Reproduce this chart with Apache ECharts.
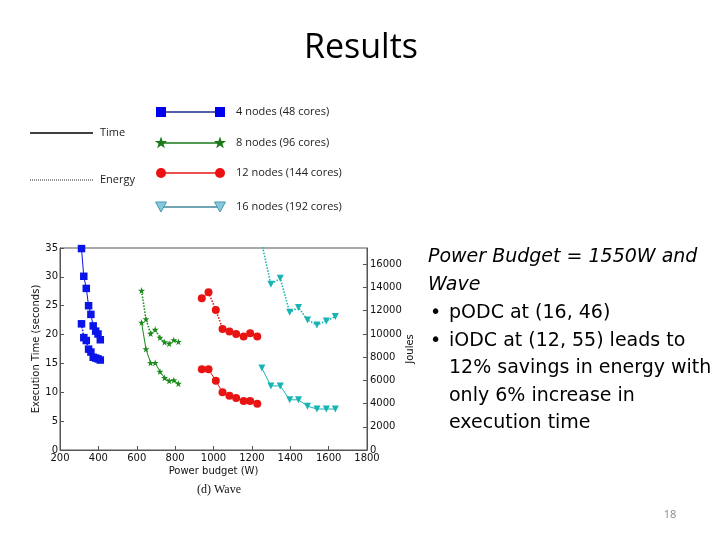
<!DOCTYPE html>
<html>
<head>
<meta charset="utf-8">
<script src="https://cdn.jsdelivr.net/npm/echarts@6/dist/echarts.min.js"></script>
<style>
html,body{margin:0;padding:0;background:#fff;}
#chart{width:720px;height:540px;}
</style>
</head>
<body>
<div id="chart"></div>
<script>
// ---- data ----
const xTicks = [200, 400, 600, 800, 1000, 1200, 1400, 1600, 1800];
const timeTicks = [0, 5, 10, 15, 20, 25, 30, 35];
const energyTicks = [0, 2000, 4000, 6000, 8000, 10000, 12000, 14000, 16000];

const power4 = [312, 324, 337, 349, 361, 373, 386, 398, 410];
const time4 = [34.9, 30.1, 28.0, 25.0, 23.5, 21.5, 20.6, 20.1, 19.1];
const energy4 = [10870, 9680, 9430, 8690, 8440, 7990, 7920, 7850, 7750];

const power8 = [625, 648, 672, 696, 721, 745, 769, 793, 817];
const time8 = [22.1, 17.5, 15.1, 15.1, 13.6, 12.5, 12.0, 12.1, 11.5];
const energy8 = [13730, 11270, 10030, 10380, 9680, 9290, 9160, 9480, 9330];

const power12 = [939, 974, 1012, 1047, 1083, 1118, 1157, 1191, 1228];
const time12 = [14.0, 14.0, 12.0, 10.0, 9.4, 9.0, 8.5, 8.5, 8.0];
const energy12 = [13070, 13590, 12070, 10430, 10200, 10000, 9770, 10050, 9770];

const power16 = [1252, 1299, 1348, 1397, 1443, 1490, 1539, 1588, 1635];
const time16 = [14.2, 11.1, 11.1, 8.7, 8.7, 7.6, 7.1, 7.1, 7.1];
const energy16 = [17750, 14280, 14790, 11860, 12270, 11200, 10770, 11120, 11490];

const seriesNames = ['4 nodes (48 cores)', '8 nodes (96 cores)', '12 nodes (144 cores)', '16 nodes (192 cores)'];
const bulletLines = ['pODC at (16, 46)', 'iODC at (12, 55) leads to', '12% savings in energy with', 'only 6% increase in', 'execution time'];

// ---- helpers ----
const zip = (xs, ys) => xs.map((x, i) => [x, ys[i]]);
const AX = '#555';
const FONT = '"DejaVu Sans", sans-serif';

function mk(name, xs, ys, yIdx, color, symbol, size, dotted, rotate) {
  return {
    name: name, type: 'line', xAxisIndex: 0, yAxisIndex: yIdx,
    data: zip(xs, ys), symbol: symbol, symbolSize: size, symbolRotate: rotate || 0,
    showSymbol: true, clip: true, animation: false,
    lineStyle: {color: color, width: dotted ? 1.6 : 1, type: dotted ? [1.5, 1.5] : 'solid'},
    itemStyle: {color: color, borderWidth: 0},
    emphasis: {disabled: true}
  };
}
const STAR = 'path://M50,0 L61,35 L98,35 L68,57 L79,91 L50,70 L21,91 L32,57 L2,35 L39,35 Z';

const C4 = '#0a14e8', C8 = '#1a8a1a', C12 = '#e81414', C16 = '#18b4b4';

const series = [
  mk('t4', power4, time4, 0, C4, 'rect', 7.5, false),
  mk('e4', power4, energy4, 1, C4, 'rect', 7.5, true),
  mk('t8', power8, time8, 0, C8, STAR, 7, false),
  mk('e8', power8, energy8, 1, C8, STAR, 7, true),
  mk('t12', power12, time12, 0, C12, 'circle', 8, false),
  mk('e12', power12, energy12, 1, C12, 'circle', 8, true),
  mk('t16', power16, time16, 0, C16, 'triangle', 7, false, 180),
  mk('e16', power16, energy16, 1, C16, 'triangle', 7, true, 180)
];

// ---- graphic elements: legend pictures and slide text ----
const g = [];
g.push({type: 'line', shape: {x1: 30, y1: 133, x2: 93, y2: 133}, style: {stroke: '#000', lineWidth: 1.3}});
g.push({type: 'text', style: {text: 'Time', x: 100, y: 133, font: '11px "Open Sans", sans-serif', fill: '#222', textVerticalAlign: 'middle'}});
g.push({type: 'line', shape: {x1: 30, y1: 180, x2: 93, y2: 180}, style: {stroke: '#222', lineWidth: 1, lineDash: [1, 1]}});
g.push({type: 'text', style: {text: 'Energy', x: 100, y: 180, font: '11px "Open Sans", sans-serif', fill: '#222', textVerticalAlign: 'middle'}});

const legY = [112, 143, 173, 207];
const legLine = ['#1a2a8a', '#1a7a1a', '#e81414', '#3f8898'];
for (let i = 0; i < 4; i++) {
  g.push({type: 'line', shape: {x1: 161, y1: legY[i], x2: 220, y2: legY[i]}, style: {stroke: legLine[i], lineWidth: 1.5}});
  g.push({type: 'text', style: {text: seriesNames[i], x: 236, y: legY[i], font: '11px "Open Sans", sans-serif', fill: '#222', textVerticalAlign: 'middle'}});
}
[161, 220].forEach(function (cx) {
  g.push({type: 'rect', shape: {x: cx - 5, y: legY[0] - 5, width: 10, height: 10}, style: {fill: '#0000ee'}});
  g.push({type: 'polygon', shape: {points: (function () {
      const pts = []; for (let k = 0; k < 10; k++) { const r = k % 2 ? 2.6 : 6.5; const a = -Math.PI / 2 + k * Math.PI / 5; pts.push([cx + r * Math.cos(a), legY[1] + r * Math.sin(a)]); } return pts; })()},
    style: {fill: '#1a7a1a'}});
  g.push({type: 'circle', shape: {cx: cx, cy: legY[2], r: 5}, style: {fill: '#ee1010'}});
  g.push({type: 'polygon', shape: {points: [[cx - 5.5, legY[3] - 5], [cx + 5.5, legY[3] - 5], [cx, legY[3] + 5]]}, style: {fill: '#86c8dc', stroke: '#4a96b0', lineWidth: 1}});
});

g.push({type: 'text', style: {text: 'Results', x: 361, y: 48, font: '34px "Open Sans", sans-serif', fill: '#000', textAlign: 'center', textVerticalAlign: 'middle'}});

const TF = '19px "DejaVu Sans", sans-serif';
const TFI = 'italic 19px "DejaVu Sans", sans-serif';
g.push({type: 'text', style: {text: 'Power Budget = 1550W and', x: 428, y: 267, font: TFI, fill: '#000', textVerticalAlign: 'bottom'}});
g.push({type: 'text', style: {text: 'Wave', x: 428, y: 295, font: TFI, fill: '#000', textVerticalAlign: 'bottom'}});
const base = [323, 351, 378, 406, 433];
const bullets = [true, true, false, false, false];
for (let i = 0; i < bulletLines.length; i++) {
  if (bullets[i]) g.push({type: 'text', style: {text: '•', x: 430, y: base[i], font: TF, fill: '#000', textVerticalAlign: 'bottom'}});
  g.push({type: 'text', style: {text: bulletLines[i], x: 449, y: base[i], font: TF, fill: '#000', textVerticalAlign: 'bottom'}});
}
g.push({type: 'text', style: {text: '(d) Wave', x: 219, y: 490, font: '12px "Liberation Serif", serif', fill: '#111', textAlign: 'center', textVerticalAlign: 'middle'}});
g.push({type: 'text', style: {text: '18', x: 670, y: 515, font: '11px "Open Sans", sans-serif', fill: '#8a8a8a', textAlign: 'center', textVerticalAlign: 'middle'}});

const plain = function (v) { return String(v); };

const chart = echarts.init(document.getElementById('chart'), null, {renderer: 'canvas'});
chart.setOption({
  backgroundColor: '#fff',
  animation: false,
  grid: {left: 60, right: 353, top: 248, bottom: 90, show: true, borderColor: AX, borderWidth: 1, backgroundColor: 'transparent'},
  xAxis: {
    type: 'value', min: xTicks[0], max: xTicks[xTicks.length - 1], interval: 200,
    name: 'Power budget (W)', nameLocation: 'middle', nameGap: 16,
    nameTextStyle: {fontFamily: FONT, fontSize: 10, color: '#111'},
    axisLine: {show: true, lineStyle: {color: AX}},
    axisTick: {show: true, inside: true, length: 4, lineStyle: {color: AX}},
    axisLabel: {fontFamily: FONT, fontSize: 10, color: '#111', margin: 3, formatter: plain},
    splitLine: {show: false}
  },
  yAxis: [{
    type: 'value', min: timeTicks[0], max: timeTicks[timeTicks.length - 1], interval: 5, position: 'left',
    name: 'Execution Time (seconds)', nameLocation: 'middle', nameGap: 18, nameRotate: 90,
    nameTextStyle: {fontFamily: FONT, fontSize: 10, color: '#111'},
    axisLine: {show: true, lineStyle: {color: AX}},
    axisTick: {show: true, inside: true, length: 4, lineStyle: {color: AX}},
    axisLabel: {fontFamily: FONT, fontSize: 10, color: '#111', margin: 2, formatter: plain},
    splitLine: {show: false}
  }, {
    type: 'value', min: energyTicks[0], max: 17400, interval: 2000, position: 'right',
    name: 'Joules', nameLocation: 'middle', nameGap: 36, nameRotate: 90,
    nameTextStyle: {fontFamily: FONT, fontSize: 10, color: '#111'},
    axisLine: {show: true, lineStyle: {color: AX}},
    axisTick: {show: true, inside: true, length: 4, lineStyle: {color: AX}},
    axisLabel: {fontFamily: FONT, fontSize: 10, color: '#111', margin: 3, showMaxLabel: false,
      formatter: function (v) { return energyTicks.indexOf(v) >= 0 ? String(v) : ''; }},
    splitLine: {show: false}
  }],
  series: series,
  graphic: g
});
</script>
</body>
</html>
